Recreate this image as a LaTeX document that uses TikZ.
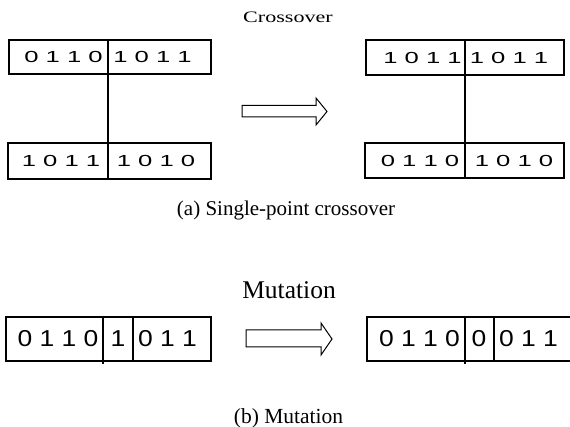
\documentclass[tikz,border=0pt]{standalone}
\usepackage{fontspec}
\setmainfont{Liberation Serif}
\newfontfamily\bitfont{Liberation Sans}
\tikzset{
  chrom/.style={draw, line width=1.2pt, inner sep=0pt, rectangle},
  xgene/.style={inner sep=0pt, font=\bitfont\fontsize{16}{16}\selectfont},
  mgene/.style={inner sep=0pt, font=\bitfont\fontsize{23}{23}\selectfont},
  cutline/.style={line width=1.2pt},
  bigarrow/.style={draw, line width=1pt, line join=miter},
  title/.style={anchor=base, inner sep=0pt},
}
% widened digit groups
\newcommand\xbits[1]{\scalebox{1.6}[1]{#1}}
\newcommand\mbits[1]{\scalebox{1.15}[1]{#1}}
\begin{document}
\begin{tikzpicture}[x=1pt,y=-1pt]
\useasboundingbox (0,0) rectangle (570,427);

% ---------- crossover ----------
\node[title] (tx) at (288,23) {\scalebox{1.38}[1]{\fontsize{16}{16}\selectfont Crossover}};

% parent chromosomes
\node[chrom, minimum width=202pt, minimum height=34pt] (p1) at (110,57) {};
\node[chrom, minimum width=203pt, minimum height=36pt] (p2) at (109.5,161) {};
% offspring chromosomes
\node[chrom, minimum width=198pt, minimum height=35pt] (q1) at (465,57.5) {};
\node[chrom, minimum width=199pt, minimum height=35pt] (q2) at (464.5,160.5) {};

\node[xgene] (p1a) at (63.5,57)   {\xbits{0 1 1 0}};
\node[xgene] (p1b) at (152.5,57)  {\xbits{1 0 1 1}};
\node[xgene] (p2a) at (61,161)    {\xbits{1 0 1 1}};
\node[xgene] (p2b) at (156,161)   {\xbits{1 0 1 0}};
\node[xgene] (q1a) at (422.5,57.5){\xbits{1 0 1 1}};
\node[xgene] (q1b) at (509,57.5)  {\xbits{1 0 1 1}};
\node[xgene] (q2a) at (420,160.5) {\xbits{0 1 1 0}};
\node[xgene] (q2b) at (514,160.5) {\xbits{1 0 1 0}};

% crossover point
\coordinate (cl) at (108,0);
\coordinate (cr) at (465,0);
\draw[cutline] (p1.north -| cl) -- (p2.south -| cl);
\draw[cutline] (q1.north -| cr) -- (q2.south -| cr);

% hollow arrow
\draw[bigarrow] (242,105.5) -- (316,105.5) -- (316,98) -- (327,111.5)
  -- (316,125) -- (316,117) -- (242,117) -- cycle;

\node[title] (ca) at (286,216) {\fontsize{21}{21}\selectfont (a) Single-point crossover};

% ---------- mutation ----------
\node[title] (tm) at (289,299) {\fontsize{25.5}{25.5}\selectfont Mutation};

\node[chrom, minimum width=205pt, minimum height=44pt] (m1) at (108.5,339) {};
\node[chrom, minimum width=205pt, minimum height=44pt] (m2) at (469.5,339) {};

\node[mgene] (m1a) at (58,339)    {\mbits{0 1 1 0}};
\node[mgene] (m1b) at (118,339)   {\mbits{1}};
\node[mgene] (m1c) at (167.5,339) {\mbits{0 1 1}};
\node[mgene] (m2a) at (419.5,339) {\mbits{0 1 1 0}};
\node[mgene] (m2b) at (479,339)   {\mbits{0}};
\node[mgene] (m2c) at (528.5,339) {\mbits{0 1 1}};

% mutated gene borders
\coordinate (ma) at (103,0);
\coordinate (mb) at (133,0);
\coordinate (mc) at (465,0);
\coordinate (md) at (494,0);
\draw[cutline] (m1.north -| ma) -- ([yshift=-2pt]m1.south -| ma);
\draw[cutline] (m1.north -| mb) -- (m1.south -| mb);
\draw[cutline] (m2.north -| mc) -- ([yshift=-2pt]m2.south -| mc);
\draw[cutline] (m2.north -| md) -- (m2.south -| md);

\draw[bigarrow] (246,330) -- (321,330) -- (321,323) -- (332,339)
  -- (321,355) -- (321,347) -- (246,347) -- cycle;

\node[title] (cb) at (288.5,423) {\fontsize{21.5}{21.5}\selectfont (b) Mutation};
\end{tikzpicture}
\end{document}
